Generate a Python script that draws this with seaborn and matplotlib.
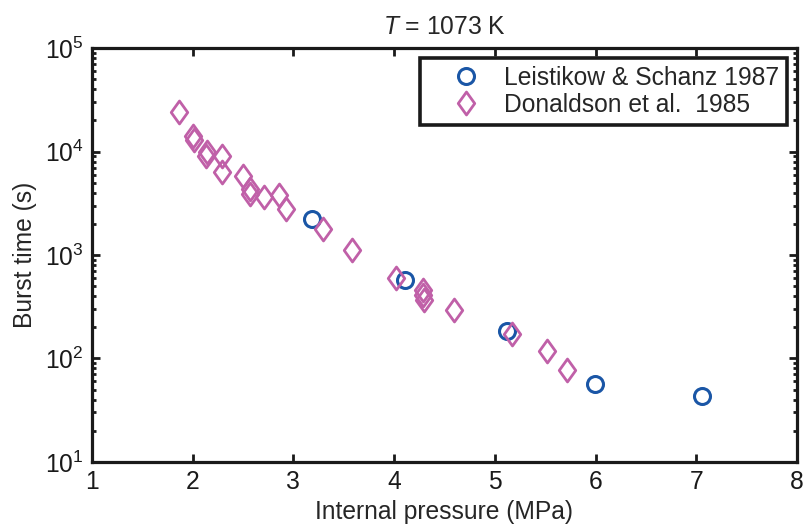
import seaborn as sns
import matplotlib.pyplot as plt
import matplotlib.ticker as mticker
from matplotlib.path import Path

# Data
leist_p = [3.18, 4.11, 5.12, 5.99, 7.06]
leist_t = [2230, 573, 184, 56, 43]

don_p = [1.86, 2.0, 2.01, 2.14, 2.13, 2.29, 2.29, 2.5, 2.57, 2.57, 2.71, 2.86, 2.93,
         3.29, 3.58, 4.02, 4.29, 4.29, 4.30, 4.59, 5.17, 5.52, 5.72]
don_t = [24100, 14100, 12900, 10000, 9100, 9000, 6300, 5750, 4350, 3900, 3600, 3800, 2800,
         1780, 1110, 600, 460, 410, 370, 295, 173, 117, 77]

sns.set_style('ticks')
plt.rcParams['font.family'] = ['Liberation Sans', 'DejaVu Sans']
plt.rcParams['mathtext.fontset'] = 'custom'
plt.rcParams['mathtext.rm'] = 'Liberation Sans'
plt.rcParams['mathtext.it'] = 'Liberation Sans:italic'

blue = '#1a56a6'
pink = '#c060a8'
fs = 17.7
diamond = Path([(0, 1), (0.72, 0), (0, -1), (-0.72, 0), (0, 1)],
               [Path.MOVETO, Path.LINETO, Path.LINETO, Path.LINETO, Path.CLOSEPOLY])

fig = plt.figure(figsize=(8.07, 5.29), dpi=100)
ax = fig.add_axes([0.114, 0.127, 0.8736, 0.782])

sns.lineplot(x=leist_p, y=leist_t, ax=ax, sort=False, estimator=None,
             linestyle='none', marker='o', markersize=11.5,
             markerfacecolor='none', markeredgecolor=blue, markeredgewidth=2.2,
             color=blue, label='Leistikow & Schanz 1987')
sns.lineplot(x=don_p, y=don_t, ax=ax, sort=False, estimator=None,
             linestyle='none', marker=diamond, markersize=16.5,
             markerfacecolor='none', markeredgecolor=pink, markeredgewidth=2.0,
             color=pink, label='Donaldson et al.  1985')

ax.set_yscale('log')
ax.set_xlim(1, 8)
ax.set_ylim(10, 1e5)
ax.xaxis.set_major_locator(mticker.MultipleLocator(1))
ax.yaxis.set_major_locator(mticker.LogLocator(base=10))
ax.yaxis.set_minor_locator(mticker.LogLocator(base=10, subs=range(2, 10)))
ax.yaxis.set_minor_formatter(mticker.NullFormatter())

for s in ax.spines.values():
    s.set_visible(True)
    s.set_linewidth(2.3)
    s.set_color('#1a1a1a')
ax.tick_params(which='both', direction='in', top=True, right=True,
               labelsize=fs, colors='#1a1a1a', width=2)
ax.tick_params(which='major', length=6, pad=6)
ax.tick_params(which='minor', length=3)

ax.set_title('$T$ = 1073 K', fontsize=fs, pad=10)
ax.set_xlabel('Internal pressure (MPa)', fontsize=fs, labelpad=4)
ax.set_ylabel('Burst time (s)', fontsize=fs, labelpad=6)

leg = ax.legend(loc='upper right', fontsize=fs, fancybox=False, framealpha=1,
                borderpad=0.32, handlelength=3.1, handletextpad=0.0,
                borderaxespad=0.4, labelspacing=0.12)
leg.get_frame().set_edgecolor('#1a1a1a')
leg.get_frame().set_linewidth(2.6)

fig.savefig('out.png', dpi=100)
